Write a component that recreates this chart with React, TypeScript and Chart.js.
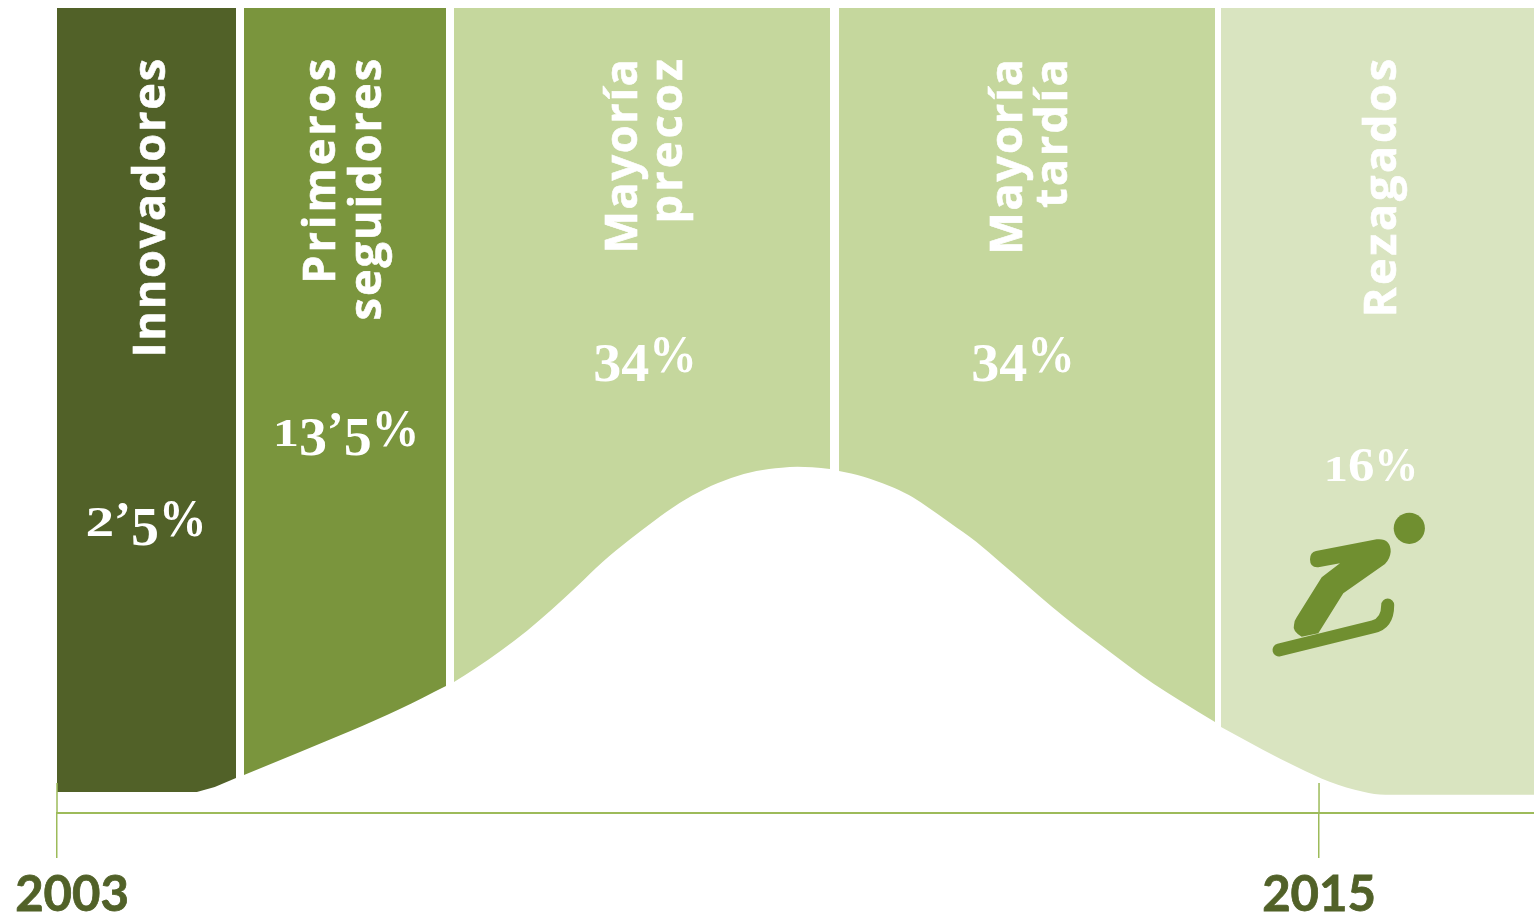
import React, { useEffect, useRef } from "react";
import { Chart, registerables } from "chart.js";

Chart.register(...registerables);

// Adoption curve, split into the five adopter groups. x is the year, y the height of the curve.
const innovatorsX = [2003.0, 2004.33, 2004.5, 2004.702];
const innovatorsY = [2.61, 2.61, 3.23, 4.35];
const earlyAdoptersX = [2004.778, 2005.31, 2005.79, 2006.26, 2006.699];
const earlyAdoptersY = [4.72, 7.58, 10.19, 12.92, 15.78];
const earlyMajorityX = [2006.775, 2006.98, 2007.22, 2007.47, 2007.71, 2007.95, 2008.19, 2008.44, 2008.68, 2008.92, 2009.16, 2009.41, 2009.65, 2009.89, 2010.04, 2010.18, 2010.35];
const earlyMajorityY = [16.27, 17.98, 20.16, 22.65, 25.34, 28.24, 31.22, 33.91, 36.31, 38.51, 40.25, 41.61, 42.48, 42.89, 43.02, 42.94, 42.73];
const lateMajorityX = [2010.436, 2010.67, 2010.91, 2011.1, 2011.25, 2011.49, 2011.74, 2011.98, 2012.22, 2012.46, 2012.71, 2012.95, 2013.19, 2013.43, 2013.68, 2014.011];
const lateMajorityY = [42.48, 41.78, 40.66, 39.5, 38.26, 36.06, 33.7, 31.02, 28.32, 25.63, 22.98, 20.62, 18.26, 16.02, 13.95, 11.3];
const laggardsX = [2014.068, 2014.47, 2014.79, 2015.1, 2015.42, 2015.63, 2017.044];
const laggardsY = [10.68, 7.83, 5.71, 3.89, 2.65, 2.27, 2.27];

const tickYears = [2003, 2015];
const tickLabels = ["2003", "2015"];
const tickRise = 3.73;

const groupLines = [["Innovadores"], ["Primeros", "seguidores"], ["Mayoría", "precoz"], ["Mayoría", "tardía"], ["Rezagados"]];
const groupShares = ["2’5%", "13’5%", "34%", "34%", "16%"];
const groupColors = ["#516128", "#7a953d", "#c5d79d", "#c5d79d", "#d9e4c0"];

const AXIS_COLOR = "#9dbb5a";
const DARK = "#516128";
const ICON = "#708f30";
const SANS = '"Open Sans"';
const SERIF = '"Liberation Serif"';

const zip = (xs: number[], ys: number[]) => xs.map((x, i) => ({ x, y: ys[i] }));

// Baselines and tracking of the rotated names and placement of the share labels, one entry per group.
const nameBaselines = [[165], [335, 381], [637, 682], [1022, 1067], [1396]];
const nameTracking = [[1.8], [3, 2], [1.7, 3.2], [1.9, 2.5], [2.7]];
const shareCenters = [146, 346, 645, 1023, 1371];
const shareBaselines = [536, 446, 372, 372, 481];
const shareSizes = [50, 50, 50, 50, 46];
const tickLabelOffsets = [15, 0];

// Old-style figures: short digits sit on the baseline, long ones hang below it.
const figureShape: Record<string, { sx: number; sy: number; dy: number }> = {
  "1": { sx: 1.05, sy: 0.8, dy: 0 },
  "2": { sx: 1.15, sy: 0.85, dy: 0 },
  "3": { sx: 1.12, sy: 1.1, dy: 9 },
  "4": { sx: 1.12, sy: 1.1, dy: 9 },
  "5": { sx: 1.12, sy: 1.1, dy: 9 },
  "6": { sx: 1.15, sy: 1.05, dy: 0 },
  "%": { sx: 0.95, sy: 1.06, dy: 0 },
  "’": { sx: 1, sy: 1, dy: 0 },
};

function drawShare(ctx: CanvasRenderingContext2D, text: string, cx: number, baseline: number, size: number) {
  ctx.font = `700 ${size}px ${SERIF}`;
  ctx.textAlign = "left";
  ctx.textBaseline = "alphabetic";
  const chars = Array.from(text);
  const widths = chars.map((c) => ctx.measureText(c).width * figureShape[c].sx);
  let x = cx - widths.reduce((a, b) => a + b, 0) / 2;
  chars.forEach((c, i) => {
    const shape = figureShape[c];
    ctx.save();
    ctx.translate(x, baseline + shape.dy);
    ctx.scale(shape.sx, shape.sy);
    ctx.fillText(c, 0, 0);
    ctx.restore();
    x += widths[i];
  });
}

// Rounds the top corners of each group's band.
const bandClip = {
  id: "bandClip",
  beforeDatasetDraw(chart: any, args: any) {
    const ds = chart.data.datasets[args.index];
    if (ds.band === undefined) return;
    const xs = chart.scales.x;
    const left = xs.getPixelForValue(ds.data[0].x);
    const right = xs.getPixelForValue(ds.data[ds.data.length - 1].x);
    const { ctx, chartArea } = chart;
    ctx.save();
    ctx.beginPath();
    ctx.roundRect(left, chartArea.top, right - left, chartArea.height + 2, [3, 3, 0, 0]);
    ctx.clip();
  },
  afterDatasetDraw(chart: any, args: any) {
    const ds = chart.data.datasets[args.index];
    if (ds.band === undefined) return;
    chart.ctx.restore();
  },
};

// Rotated group names, share labels, year labels and the ski-jumper pictogram.
const annotations = {
  id: "annotations",
  afterDraw(chart: any) {
    const { ctx, scales } = chart;
    ctx.save();
    ctx.fillStyle = "#ffffff";
    ctx.strokeStyle = "#ffffff";
    groupLines.forEach((lines, g) => {
      lines.forEach((line, i) => {
        const tracking = nameTracking[g][i];
        ctx.save();
        ctx.translate(nameBaselines[g][i], 59 - tracking);
        ctx.rotate(-Math.PI / 2);
        ctx.font = `700 45px ${SANS}`;
        ctx.letterSpacing = `${tracking}px`;
        ctx.textAlign = "right";
        ctx.textBaseline = "alphabetic";
        ctx.lineWidth = 0.6;
        ctx.fillText(line, 0, 0);
        ctx.strokeText(line, 0, 0);
        ctx.restore();
      });
      drawShare(ctx, groupShares[g], shareCenters[g], shareBaselines[g], shareSizes[g]);
    });

    ctx.fillStyle = DARK;
    ctx.strokeStyle = DARK;
    ctx.lineWidth = 0.8;
    ctx.font = `700 49px "Lato"`;
    ctx.textAlign = "center";
    ctx.textBaseline = "alphabetic";
    tickYears.forEach((year, i) => {
      const x = scales.x.getPixelForValue(year) + tickLabelOffsets[i];
      ctx.fillText(tickLabels[i], x, 911);
      ctx.strokeText(tickLabels[i], x, 911);
    });

    ctx.fillStyle = ICON;
    ctx.strokeStyle = ICON;
    ctx.beginPath();
    ctx.arc(1409.3, 528.3, 15.6, 0, Math.PI * 2);
    ctx.fill();
    const body = new Path2D(
      "M1316 551 L1376.7 539.3 Q1390.7 538 1390.7 551.7 Q1390 559 1385 564 L1343.3 593.3 L1318.3 633.3 L1301.7 636.7 Q1292 631 1294 625 Q1294 621 1296.7 617.3 L1321.7 577.3 L1340 563.3 L1318.3 567.3 Q1310 568 1310 559.3 Q1310 552.5 1316 551 Z"
    );
    ctx.fill(body);
    ctx.lineWidth = 13;
    ctx.lineCap = "round";
    ctx.lineJoin = "round";
    ctx.stroke(new Path2D("M1279 650 L1373.3 626.7 Q1387.7 623.3 1387.7 605"));
    ctx.restore();
  },
};

export default function App() {
  const ref = useRef<HTMLCanvasElement>(null);

  useEffect(() => {
    const canvas = ref.current;
    if (!canvas) return;
    const bandSeries = [
      zip(innovatorsX, innovatorsY),
      zip(earlyAdoptersX, earlyAdoptersY),
      zip(earlyMajorityX, earlyMajorityY),
      zip(lateMajorityX, lateMajorityY),
      zip(laggardsX, laggardsY),
    ];
    const tickDatasets = tickYears.map((year) => ({
      data: [{ x: year, y: 0 }, { x: year, y: tickRise }],
      borderColor: AXIS_COLOR,
      borderWidth: 1.5,
      pointRadius: 0,
      fill: false,
      clip: false,
    }));
    const bandDatasets = bandSeries.map((data, i) => ({
      data,
      band: i,
      backgroundColor: groupColors[i],
      borderWidth: 0,
      pointRadius: 0,
      fill: "end",
      tension: i === 0 ? 0 : 0.35,
      cubicInterpolationMode: i === 0 ? "default" : "monotone",
    }));
    const chart = new Chart(canvas, {
      type: "line",
      data: { datasets: [...tickDatasets, ...bandDatasets] as any },
      options: {
        responsive: false,
        animation: false,
        layout: { padding: { left: 57, right: 0, top: 8, bottom: 58 } },
        plugins: { legend: { display: false }, tooltip: { enabled: false } },
        scales: {
          x: {
            type: "linear",
            min: 2003,
            max: 2017.044,
            afterBuildTicks: (axis: any) => {
              axis.ticks = tickYears.map((value) => ({ value }));
            },
            border: { color: AXIS_COLOR, width: 2 },
            grid: { drawOnChartArea: false, drawTicks: true, tickLength: 45, color: AXIS_COLOR, lineWidth: 1.5 },
            ticks: { display: false },
          },
          y: { type: "linear", min: 0, max: 100, display: false },
        },
      },
      plugins: [bandClip, annotations],
    } as any);
    return () => chart.destroy();
  }, []);

  return (
    <div style={{ position: "absolute", left: 0, top: 0, width: 1534, height: 916 }}>
      <canvas ref={ref} width={1534} height={916} style={{ display: "block" }} />
    </div>
  );
}
